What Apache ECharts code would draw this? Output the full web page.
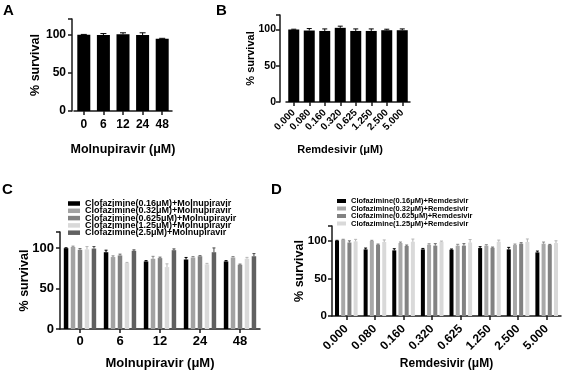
<!DOCTYPE html>
<html><head><meta charset="utf-8">
<script src="https://cdn.jsdelivr.net/npm/echarts@6/dist/echarts.min.js"></script>
<style>html,body{margin:0;padding:0;background:#fff}#c{width:562px;height:372px}</style>
</head><body><div id="c"></div>
<script>
// ---------- data ----------
const molCats = ['0', '6', '12', '24', '48'];
const remCats = ['0.000', '0.080', '0.160', '0.320', '0.625', '1.250', '2.500', '5.000'];
const yTicks = [0, 50, 100];

const aValues = [99.5, 99, 100, 99, 94.4];
const aErrors = [0.4, 2, 2, 3, 0.4];

const bValues = [100, 98.6, 98, 102.3, 98, 98, 99, 99];
const bErrors = [0.4, 2.7, 2.8, 2.3, 2.8, 2.8, 1.4, 1.8];

const cNames = ['Clofazimine(0.16μM)+Molnupiravir', 'Clofazimine(0.32μM)+Molnupiravir',
  'Clofazimine(0.625μM)+Molnupiravir', 'Clofazimine(1.25μM)+Molnupiravir', 'Clofazimine(2.5μM)+Molnupiravir'];
const cClof016 = [100, 95, 83.6, 86, 83.6];
const cClof032 = [101.5, 89, 86.9, 88.5, 88.5];
const cClof0625 = [98, 91, 87.7, 90, 79.5];
const cClof125 = [98.5, 81.6, 76.6, 80, 87];
const cClof25 = [99.5, 96.7, 97.5, 95, 90];
const cErr016 = [0.5, 2.5, 1, 2.5, 1];
const cErr032 = [1, 1.5, 3, 1.2, 1.2];
const cErr0625 = [1.5, 1.6, 1.2, 0.8, 0.8];
const cErr125 = [3.5, 0.8, 4, 1.2, 1.6];
const cErr25 = [2.5, 1.2, 1.6, 5.3, 3.3];

const dNames = ['Clofazimine(0.16μM)+Remdesivir', 'Clofazimine(0.32μM)+Remdesivir',
  'Clofazimine(0.625μM)+Remdesivir', 'Clofazimine(1.25μM)+Remdesivir'];
const dClof016 = [100.4, 88.8, 87.5, 88.8, 88.4, 90.6, 88.8, 84.8];
const dClof032 = [101.8, 100, 97.3, 95, 93.8, 93.8, 94.6, 96.4];
const dClof0625 = [98, 95, 93.3, 93.8, 93.8, 91, 96.4, 94.6];
const dClof125 = [99.5, 98.7, 99, 99, 98, 99, 98.7, 97.3];
const dErr016 = [0.5, 1.8, 2.2, 1.3, 0.9, 1.8, 2.7, 1.8];
const dErr032 = [0.5, 0.9, 1.3, 1.3, 1.8, 1.3, 1.3, 2.2];
const dErr0625 = [2.2, 0.9, 1.3, 2.7, 2.7, 0.9, 1.3, 0.9];
const dErr125 = [2.7, 2.7, 3.6, 0.9, 4, 2.2, 4, 3];

// ---------- styles ----------
const FONT = 'Liberation Sans, Arial, sans-serif';
const cColors = ['#000000', '#a3a3a3', '#828282', '#d9d9d9', '#616161'];
const cErrColors = ['#000000', '#8a8a8a', '#6a6a6a', '#b5b5b5', '#4a4a4a'];
const dColors = ['#000000', '#a8a8a8', '#828282', '#d9d9d9'];
const dErrColors = ['#000000', '#8a8a8a', '#6a6a6a', '#b5b5b5'];

const chart = echarts.init(document.getElementById('c'), null, {renderer: 'canvas'});

function yAxisCfg(grid, offset, nameGap, lblSize, nameSize, lblMargin) {
  return {
    type: 'value', gridIndex: grid, min: 0, max: 120, interval: 50, offset: offset,
    axisLine: {show: true, lineStyle: {color: '#1a1a1a', width: 1.5}},
    axisTick: {show: true, length: 4, lineStyle: {color: '#1a1a1a', width: 1.5}},
    splitLine: {show: false},
    axisLabel: {color: '#000', fontWeight: 'bold', fontSize: lblSize, fontFamily: FONT, margin: lblMargin,
      formatter: v => (yTicks.indexOf(v) >= 0 ? String(v) : '')},
    name: '% survival', nameLocation: 'middle', nameGap: nameGap, nameMoveOverlap: false,
    nameTextStyle: {color: '#000', fontWeight: 'bold', fontSize: nameSize, fontFamily: FONT}
  };
}
function xAxisCfg(grid, cats, name, nameGap, lblSize, rotate, margin, nameSize, namePad) {
  return {
    type: 'category', gridIndex: grid, data: cats,
    axisLine: {show: true, lineStyle: {color: '#1a1a1a', width: 1.5}},
    axisTick: {show: true, alignWithLabel: true, length: 4, lineStyle: {color: '#1a1a1a', width: 1.5}},
    axisLabel: {color: '#000', fontWeight: 'bold', fontSize: lblSize, fontFamily: FONT,
      rotate: rotate, interval: 0, margin: margin},
    name: name, nameLocation: 'middle', nameGap: nameGap,
    nameTextStyle: {color: '#000', fontWeight: 'bold', fontSize: nameSize, fontFamily: FONT, padding: namePad || 0}
  };
}

function errRender(n, idx, w, gap, capW, color) {
  return function (params, api) {
    const x = api.value(0), y = api.value(1), e = api.value(2);
    const base = api.coord([x, y]);
    const top = api.coord([x, y + e]);
    const total = n * w + (n - 1) * gap * w;
    const cx = base[0] - total / 2 + w / 2 + idx * (w + gap * w);
    return {type: 'group', children: [
      {type: 'line', shape: {x1: cx, y1: base[1], x2: cx, y2: top[1]}, style: {stroke: color, lineWidth: 1}},
      {type: 'line', shape: {x1: cx - capW / 2, y1: top[1], x2: cx + capW / 2, y2: top[1]}, style: {stroke: color, lineWidth: 1}}
    ]};
  };
}

const series = [];
function addGroup(grid, names, vals, errs, colors, errColors, w, gap, capW) {
  const n = vals.length;
  vals.forEach((v, i) => {
    series.push({
      type: 'bar', name: names ? names[i] : 'bar' + grid, xAxisIndex: grid, yAxisIndex: grid,
      data: v, barWidth: w, barGap: (gap * 100) + '%',
      itemStyle: {color: colors[i]}, emphasis: {disabled: true}, z: 2
    });
    series.push({
      type: 'custom', xAxisIndex: grid, yAxisIndex: grid, z: 3, silent: true,
      data: v.map((val, k) => [k, val, errs[i][k]]),
      renderItem: errRender(n, i, w, gap, capW, errColors[i])
    });
  });
}

addGroup(0, null, [aValues], [aErrors], ['#000'], ['#000'], 13, 0, 6);
addGroup(1, null, [bValues], [bErrors], ['#000'], ['#000'], 11, 0, 5);
addGroup(2, cNames, [cClof016, cClof032, cClof0625, cClof125, cClof25],
  [cErr016, cErr032, cErr0625, cErr125, cErr25], cColors, cErrColors, 4.5, 0.55, 3);
addGroup(3, dNames, [dClof016, dClof032, dClof0625, dClof125],
  [dErr016, dErr032, dErr0625, dErr125], dColors, dErrColors, 4, 0.55, 3);

const option = {
  backgroundColor: '#fff',
  animation: false,
  grid: [
    {left: 74, top: 19, width: 98, height: 92},
    {left: 286, top: 15, width: 124, height: 87},
    {left: 60, top: 232, width: 200, height: 97},
    {left: 332, top: 226, width: 229, height: 90}
  ],
  xAxis: [
    xAxisCfg(0, molCats, 'Molnupiravir (μM)', 32.5, 12, 0, 8, 12.5),
    xAxisCfg(1, remCats, 'Remdesivir (μM)', 42, 10, 45, 9, 11, [0, 16, 0, 0]),
    xAxisCfg(2, molCats, 'Molnupiravir (μM)', 28, 13, 0, 6, 13),
    xAxisCfg(3, remCats, 'Remdesivir (μM)', 42, 12, 45, 11, 12)
  ],
  yAxis: [
    yAxisCfg(0, 2, 29.5, 12, 12.5, 6),
    yAxisCfg(1, 6, 23.5, 10.5, 11, 4),
    yAxisCfg(2, 0, 28.5, 13, 12.5, 6),
    yAxisCfg(3, 0, 25.5, 11.5, 12.5, 5)
  ],
  legend: [
    {orient: 'vertical', left: 68, top: 199, padding: 0, itemWidth: 12, itemHeight: 4.5, itemGap: -1.7, icon: 'rect',
      selectedMode: false, data: cNames,
      textStyle: {fontSize: 9, fontWeight: 'bold', lineHeight: 7, color: '#000', fontFamily: FONT}},
    {orient: 'vertical', left: 337, top: 197, padding: 0, itemWidth: 9, itemHeight: 4, itemGap: -0.5, icon: 'rect',
      selectedMode: false, data: dNames,
      textStyle: {fontSize: 7.5, fontWeight: 'bold', lineHeight: 7, color: '#000', fontFamily: FONT}}
  ],
  graphic: [
    {type: 'text', left: 3, top: 3, style: {text: 'A', font: 'bold 15px ' + FONT, fill: '#000'}},
    {type: 'text', left: 216, top: 3, style: {text: 'B', font: 'bold 15px ' + FONT, fill: '#000'}},
    {type: 'text', left: 2, top: 182, style: {text: 'C', font: 'bold 15px ' + FONT, fill: '#000'}},
    {type: 'text', left: 271, top: 182, style: {text: 'D', font: 'bold 15px ' + FONT, fill: '#000'}}
  ],
  series: series
};
chart.setOption(option);
</script>
</body></html>
